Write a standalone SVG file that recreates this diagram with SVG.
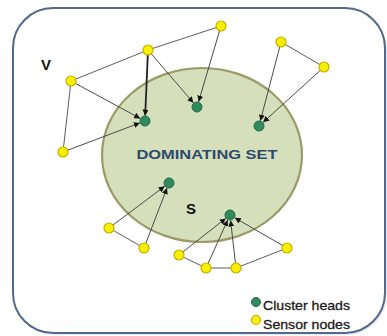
<svg xmlns="http://www.w3.org/2000/svg" width="387" height="336" viewBox="0 0 387 336">
<defs>
<style>
.frame{fill:#ffffff;stroke:#52698c;stroke-width:2}
.set{fill:#d6dfbb;stroke:#9b9a68;stroke-width:2.2}
.edge{stroke:#5e5e5e;stroke-width:1;fill:none}
.arr{stroke:#4a4a4a;stroke-width:1;fill:none;marker-end:url(#ah)}
.thick{stroke:#222;stroke-width:1.8}
.sn{fill:#f7f000;stroke:#c9ae00;stroke-width:1.2}
.ch{fill:#2f8a5c;stroke:#236b45;stroke-width:1}
.big{font-family:"Liberation Sans",Arial,sans-serif;font-weight:bold;fill:#111}
.leg{font-family:"Liberation Sans",Arial,sans-serif;font-size:13px;fill:#1a1a1a;stroke:#1a1a1a;stroke-width:0.3}
</style>
<marker id="ah" viewBox="0 0 6 6" refX="6" refY="3" markerWidth="6" markerHeight="6" markerUnits="userSpaceOnUse" orient="auto">
<path d="M0,0 L6,3 L0,6 z" fill="#111"/>
</marker>
</defs>
<rect x="15" y="10" width="372" height="325" rx="40" fill="#d8dde6" opacity="0.6"/>
<rect class="frame" x="13" y="8" width="372" height="325" rx="40"/>
<g id="dominating-set">
<ellipse class="set" cx="202" cy="155" rx="100" ry="87"/>
<text x="207" y="159" text-anchor="middle" font-family="Liberation Sans,Arial,sans-serif" font-weight="bold" font-size="13.5" fill="#2c4a6b" textLength="141" lengthAdjust="spacingAndGlyphs">DOMINATING SET</text>
</g>
<text class="big" x="46" y="70" text-anchor="middle" font-size="15">V</text>
<text class="big" x="191" y="214" text-anchor="middle" font-size="15">S</text>
<g id="connectors">
<line class="edge" x1="71" y1="81" x2="148" y2="50"/>
<line class="edge" x1="148" y1="50" x2="221" y2="26"/>
<line class="edge" x1="71" y1="81" x2="63" y2="152"/>
<line class="edge" x1="281" y1="42" x2="324" y2="67"/>
<line class="edge" x1="109" y1="228" x2="144" y2="248"/>
<line class="edge" x1="179" y1="255" x2="206" y2="268"/>
<line class="edge" x1="206" y1="268" x2="236" y2="268"/>
<line class="edge" x1="236" y1="268" x2="287" y2="248"/>
<line class="arr thick" x1="148" y1="50" x2="145.2" y2="115.5"/>
<line class="arr" x1="71" y1="81" x2="140.2" y2="118.4"/>
<line class="arr" x1="63" y1="152" x2="139.9" y2="122.9"/>
<line class="arr" x1="148" y1="50" x2="193.4" y2="102.8"/>
<line class="arr" x1="221" y1="26" x2="198.6" y2="101.7"/>
<line class="arr" x1="281" y1="42" x2="260.4" y2="120.7"/>
<line class="arr" x1="324" y1="67" x2="263.1" y2="122.3"/>
<line class="arr" x1="109" y1="228" x2="164.6" y2="186.3"/>
<line class="arr" x1="144" y1="248" x2="167" y2="188.1"/>
<line class="arr" x1="179" y1="255" x2="225.7" y2="218.4"/>
<line class="arr" x1="206" y1="268" x2="227.7" y2="220"/>
<line class="arr" x1="236" y1="268" x2="230.6" y2="220.5"/>
<line class="arr" x1="287" y1="248" x2="234.8" y2="217.8"/>
</g>
<g id="ch1"><circle class="ch" cx="145" cy="121" r="5"/></g>
<g id="ch2"><circle class="ch" cx="197" cy="107" r="5"/></g>
<g id="ch3"><circle class="ch" cx="259" cy="126" r="5"/></g>
<g id="ch4"><circle class="ch" cx="169" cy="183" r="5"/></g>
<g id="ch5"><circle class="ch" cx="230" cy="215" r="5"/></g>
<g id="sn1"><circle class="sn" cx="148" cy="50" r="5"/></g>
<g id="sn2"><circle class="sn" cx="71" cy="81" r="5"/></g>
<g id="sn3"><circle class="sn" cx="63" cy="152" r="5"/></g>
<g id="sn4"><circle class="sn" cx="221" cy="26" r="5"/></g>
<g id="sn5"><circle class="sn" cx="281" cy="42" r="5"/></g>
<g id="sn6"><circle class="sn" cx="324" cy="67" r="5"/></g>
<g id="sn7"><circle class="sn" cx="109" cy="228" r="5"/></g>
<g id="sn8"><circle class="sn" cx="144" cy="248" r="5"/></g>
<g id="sn9"><circle class="sn" cx="179" cy="255" r="5"/></g>
<g id="sn10"><circle class="sn" cx="206" cy="268" r="5"/></g>
<g id="sn11"><circle class="sn" cx="236" cy="268" r="5"/></g>
<g id="sn12"><circle class="sn" cx="287" cy="248" r="5"/></g>
<g id="legend">
<circle class="ch" cx="256" cy="302" r="4.5"/>
<text class="leg" x="263" y="310" textLength="87" lengthAdjust="spacingAndGlyphs">Cluster heads</text>
<circle class="sn" cx="256" cy="320" r="4.5"/>
<text class="leg" x="263" y="329" textLength="87" lengthAdjust="spacingAndGlyphs">Sensor nodes</text>
</g>
</svg>
